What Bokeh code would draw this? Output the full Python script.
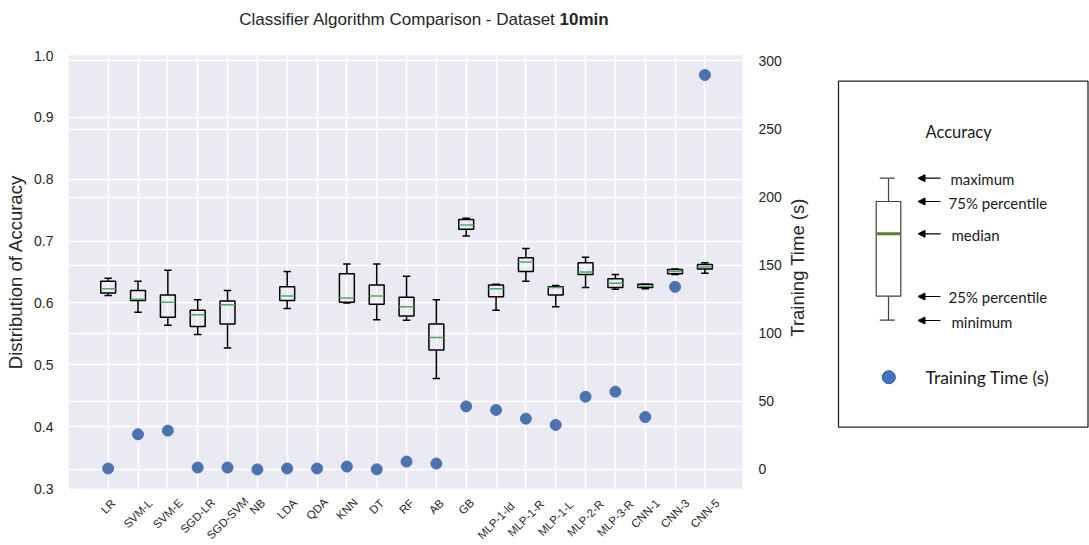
import math
from bokeh.plotting import figure
from bokeh.models import (Range1d, LinearAxis, FixedTicker, Grid, NumeralTickFormatter,
                          Div, Arrow, NormalHead, ColumnDataSource)
from bokeh.layouts import column, row
from bokeh.embed import file_html
from bokeh.resources import INLINE
from bokeh.core.properties import value

# ---------------- data ----------------
classifiers = ["LR", "SVM-L", "SVM-E", "SGD-LR", "SGD-SVM", "NB", "LDA", "QDA", "KNN", "DT",
               "RF", "AB", "GB", "MLP-1-ld", "MLP-1-R", "MLP-1-L", "MLP-2-R", "MLP-3-R",
               "CNN-1", "CNN-3", "CNN-5"]
acc_max = [0.640, 0.635, 0.653, 0.605, 0.620, None, 0.651, None, 0.663, 0.663, 0.643, 0.605,
           0.737, 0.630, 0.688, 0.628, 0.674, 0.646, 0.630, 0.655, 0.665]
acc_q3 = [0.635, 0.620, 0.613, 0.588, 0.603, None, 0.626, None, 0.647, 0.629, 0.609, 0.566,
          0.735, 0.629, 0.673, 0.626, 0.665, 0.639, 0.630, 0.654, 0.662]
acc_med = [0.623, 0.606, 0.601, 0.581, 0.597, None, 0.611, None, 0.608, 0.611, 0.594, 0.544,
           0.726, 0.623, 0.666, 0.625, 0.650, 0.632, 0.627, 0.651, 0.658]
acc_q1 = [0.616, 0.604, 0.577, 0.562, 0.566, None, 0.604, None, 0.601, 0.598, 0.579, 0.524,
          0.719, 0.610, 0.651, 0.613, 0.646, 0.625, 0.625, 0.647, 0.655]
acc_min = [0.612, 0.585, 0.564, 0.549, 0.527, None, 0.591, None, 0.600, 0.573, 0.572, 0.478,
           0.708, 0.588, 0.635, 0.594, 0.625, 0.622, 0.623, 0.646, 0.648]
train_time = [0.7, 25.8, 28.5, 1.4, 1.4, 0.0, 0.7, 0.7, 2.1, 0.1, 5.8, 4.3,
              46.3, 43.7, 37.3, 32.7, 53.4, 57.1, 38.5, 134.1, 289.7]
acc_ticks = [0.3, 0.4, 0.5, 0.6, 0.7, 0.8, 0.9, 1.0]
time_ticks = [0, 50, 100, 150, 200, 250, 300]

positions = list(range(1, len(classifiers) + 1))
BOX_HALF = 0.25
CAP_HALF = 0.125

idx = [i for i in range(len(classifiers)) if acc_med[i] is not None]
bx = [positions[i] for i in idx]
box_src = ColumnDataSource(dict(
    x=bx,
    x0=[v - BOX_HALF for v in bx], x1=[v + BOX_HALF for v in bx],
    c0=[v - CAP_HALF for v in bx], c1=[v + CAP_HALF for v in bx],
    hi=[acc_max[i] for i in idx], top=[acc_q3[i] for i in idx],
    med=[acc_med[i] for i in idx], bottom=[acc_q1[i] for i in idx],
    lo=[acc_min[i] for i in idx],
))

TXT = "#262626"
FONT = "Liberation Sans"

# ---------------- main figure ----------------
xr = Range1d(-0.33, 22.26)
p = figure(width=785, height=456, x_range=xr, y_range=Range1d(0.3, 1.0),
           output_backend="svg", toolbar_location=None, x_axis_location=None,
           min_border_left=68, min_border_right=43, min_border_top=15, min_border_bottom=8,
           background_fill_color="#EAEAF2", border_fill_color="white", outline_line_color=None)
p.extra_y_ranges = {"time": Range1d(-14, 304)}

p.yaxis.ticker = FixedTicker(ticks=acc_ticks)
p.yaxis.formatter = NumeralTickFormatter(format="0.0")
p.yaxis.axis_label = "Distribution of Accuracy"
p.yaxis.major_label_standoff = 9
p.yaxis.axis_label_standoff = 5

ax_r = LinearAxis(y_range_name="time", ticker=FixedTicker(ticks=time_ticks))
ax_r.major_label_standoff = 10
p.add_layout(ax_r, "right")

for ax in [p.yaxis[0], ax_r]:
    ax.axis_line_color = None
    ax.major_tick_line_color = None
    ax.minor_tick_line_color = None
    ax.major_label_text_font = FONT
    ax.major_label_text_color = TXT
    ax.major_label_text_font_size = "14px"
    ax.axis_label_text_font = FONT
    ax.axis_label_text_color = TXT
    ax.axis_label_text_font_style = "normal"
    ax.axis_label_text_font_size = "18.5px"

p.ygrid.ticker = FixedTicker(ticks=acc_ticks)
p.ygrid.grid_line_color = "white"
p.ygrid.grid_line_width = 1.5
gx = Grid(dimension=0, ticker=FixedTicker(ticks=positions),
          grid_line_color="white", grid_line_width=1.5)
p.add_layout(gx, "center")
g2 = Grid(dimension=1, ticker=FixedTicker(ticks=time_ticks), y_range_name="time",
          grid_line_color="white", grid_line_width=1.5)
p.add_layout(g2, "center")

# box plot parts
p.segment(x0="x", y0="top", x1="x", y1="hi", source=box_src, line_color="black", line_width=1.5)
p.segment(x0="x", y0="bottom", x1="x", y1="lo", source=box_src, line_color="black", line_width=1.5)
p.segment(x0="c0", y0="hi", x1="c1", y1="hi", source=box_src, line_color="black", line_width=1.5)
p.segment(x0="c0", y0="lo", x1="c1", y1="lo", source=box_src, line_color="black", line_width=1.5)
p.quad(left="x0", right="x1", top="top", bottom="bottom", source=box_src,
       fill_alpha=0, line_color="black", line_width=1.5)
p.segment(x0="x0", y0="med", x1="x1", y1="med", source=box_src, line_color="#55A868", line_width=1.5)

p.scatter(x=positions, y=train_time, y_range_name="time", size=11,
          fill_color="#4C72B0", line_color="#4C72B0")

# ---------------- category label strip (shares the x range) ----------------
strip = figure(width=785, height=49, x_range=xr, y_range=Range1d(49, 0),
               output_backend="svg", toolbar_location=None,
               x_axis_location=None, y_axis_location=None,
               min_border_left=68, min_border_right=43, min_border_top=0, min_border_bottom=0,
               background_fill_color="white", border_fill_color="white", outline_line_color=None)
strip.grid.visible = False
# rotated labels: top of each rotated box 1px below strip top, centred on its position
label_drop = [1 + 0.707 * (6.6 * len(n) + 12.5) / 2 for n in classifiers]
strip.text(x=positions, y=label_drop, text=classifiers, angle=math.pi / 4,
           text_align="center", text_baseline="middle", text_font=value(FONT),
           text_font_size="11.5px", text_color=TXT)

# ---------------- legend figure (coordinates = page pixels) ----------------
leg = figure(width=304, height=456, x_range=Range1d(785, 1089), y_range=Range1d(488, 55),
             output_backend="svg", toolbar_location=None,
             min_border_left=0, min_border_right=0, min_border_top=15, min_border_bottom=8,
             x_axis_location=None, y_axis_location=None,
             background_fill_color="white", border_fill_color="white", outline_line_color=None)
leg.grid.visible = False

# right axis title (reads bottom to top)
leg.text(x=[797], y=[267], text=["Training Time (s)"], angle=math.pi / 2,
         text_align="center", text_baseline="middle", text_font=value(FONT),
         text_font_size="18.5px", text_color=TXT)

LF = value("Lato")
leg.quad(left=[838], right=[1087.5], top=[80.7], bottom=[426.7], fill_alpha=0,
         line_color="#262626", line_width=1.3)
leg.text(x=[925], y=[131], text=["Accuracy"], text_font=LF, text_font_size="16.5px",
         text_baseline="middle", text_align="left", text_color="#1a1a1a")

GRAY = "#404040"
leg.segment(x0=[879.3, 879.3, 888, 888], y0=[177.7, 319.7, 177.7, 295.7],
            x1=[894.3, 894.3, 888, 888], y1=[177.7, 319.7, 201, 319.7],
            line_color=GRAY, line_width=1.2)
leg.quad(left=[875.7], right=[900.3], top=[201], bottom=[295.7], fill_color="white",
         line_color=GRAY, line_width=1.2)
leg.segment(x0=[876.3], y0=[233.3], x1=[899.7], y1=[233.3], line_color="#548235", line_width=3)

arrow_y = [177.7, 201, 233.3, 296, 320]
for yy in arrow_y:
    leg.add_layout(Arrow(end=NormalHead(size=7, fill_color="black", line_color="black"),
                         x_start=940, y_start=yy, x_end=917.5, y_end=yy,
                         line_color="black", line_width=1.2))
leg.text(x=[950, 948, 951, 948, 951], y=[178, 202, 234, 296, 321],
         text=["maximum", "75% percentile", "median", "25% percentile", "minimum"],
         text_font=LF, text_font_size="15px", text_baseline="middle", text_align="left",
         text_color="#1a1a1a")

leg.scatter(x=[888.3], y=[376.7], size=13, fill_color="#4472C4", line_color="#2F528F", line_width=1)
leg.text(x=[925], y=[377], text=["Training Time (s)"], text_font=LF, text_font_size="17.5px",
         text_baseline="middle", text_align="left", text_color="#1a1a1a")

# ---------------- title ----------------
title = Div(text=("<div style=\"box-sizing:border-box;width:830px;padding-left:18px;padding-top:10px;"
                  "text-align:center;line-height:20px;font-family:'Liberation Sans',Arial,sans-serif;"
                  "font-size:17px;color:#262626;\">Classifier Algorithm Comparison - Dataset "
                  "<b>10min</b></div>"),
            width=830, height=40, margin=(0, 0, 0, 0))

layout = column(title, row(p, leg, spacing=0), strip, spacing=0)
open("out.html", "w").write(file_html(layout, INLINE))
